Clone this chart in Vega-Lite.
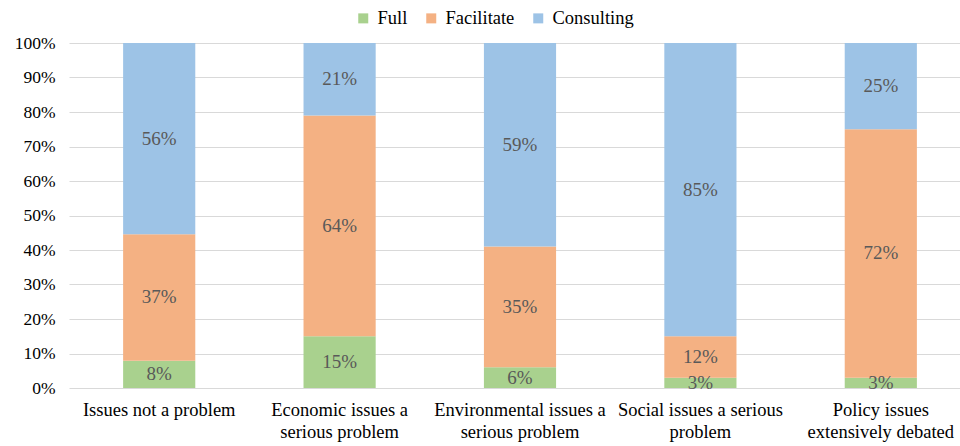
{
  "$schema": "https://vega.github.io/schema/vega-lite/v6.json",
  "width": 902,
  "height": 345,
  "autosize": {"type": "none"},
  "padding": {"left": 69, "top": 43, "right": 0, "bottom": 58},
  "background": "white",
  "config": {
    "view": {"stroke": null},
    "axisY": {
      "values": [0, 0.1, 0.2, 0.3, 0.4, 0.5, 0.6, 0.7, 0.8, 0.9, 1],
      "format": ".0%",
      "labelOverlap": false,
      "domain": false,
      "ticks": false,
      "grid": true,
      "gridColor": "#d9d9d9",
      "gridWidth": 1.2,
      "labelFont": "Liberation Serif",
      "labelFontSize": 17.5,
      "labelColor": "#000000",
      "labelPadding": 14,
      "title": null
    }
  },
  "data": {
    "values": [
      {"cat": "Issues not a problem", "series": "Full", "v": 0.08},
      {"cat": "Issues not a problem", "series": "Facilitate", "v": 0.37},
      {"cat": "Issues not a problem", "series": "Consulting", "v": 0.56},
      {"cat": "Economic issues a|serious problem", "series": "Full", "v": 0.15},
      {"cat": "Economic issues a|serious problem", "series": "Facilitate", "v": 0.64},
      {"cat": "Economic issues a|serious problem", "series": "Consulting", "v": 0.21},
      {"cat": "Environmental issues a|serious problem", "series": "Full", "v": 0.06},
      {"cat": "Environmental issues a|serious problem", "series": "Facilitate", "v": 0.35},
      {"cat": "Environmental issues a|serious problem", "series": "Consulting", "v": 0.59},
      {"cat": "Social issues a serious|problem", "series": "Full", "v": 0.03},
      {"cat": "Social issues a serious|problem", "series": "Facilitate", "v": 0.12},
      {"cat": "Social issues a serious|problem", "series": "Consulting", "v": 0.85},
      {"cat": "Policy issues|extensively debated", "series": "Full", "v": 0.03},
      {"cat": "Policy issues|extensively debated", "series": "Facilitate", "v": 0.72},
      {"cat": "Policy issues|extensively debated", "series": "Consulting", "v": 0.25}
    ]
  },
  "transform": [
    {
      "stack": "v",
      "groupby": ["cat"],
      "sort": [{"field": "series", "order": "descending"}],
      "offset": "normalize",
      "as": ["y0", "y1"]
    },
    {"calculate": "(datum.y0 + datum.y1) / 2", "as": "ymid"}
  ],
  "encoding": {
    "x": {
      "field": "cat",
      "type": "nominal",
      "sort": null,
      "scale": {"paddingInner": 0.6, "paddingOuter": 0.3},
      "axis": {
        "title": null,
        "labelAngle": 0,
        "domain": false,
        "ticks": false,
        "labelFont": "Liberation Serif",
        "labelFontSize": 18.5,
        "labelColor": "#000000",
        "labelPadding": 12,
        "labelLineHeight": 22,
        "labelExpr": "split(datum.label, '|')"
      }
    }
  },
  "layer": [
    {
      "mark": {"type": "bar"},
      "encoding": {
        "y": {
          "field": "y0",
          "type": "quantitative",
          "scale": {"domain": [0, 1]}
        },
        "y2": {"field": "y1"},
        "color": {
          "field": "series",
          "type": "nominal",
          "scale": {
            "domain": ["Full", "Facilitate", "Consulting"],
            "range": ["#a9d18e", "#f4b183", "#9dc3e6"]
          },
          "legend": {
            "title": null,
            "orient": "none",
            "direction": "horizontal",
            "legendX": 285,
            "legendY": -34,
            "symbolType": "square",
            "symbolSize": 100,
            "symbolStrokeWidth": 0,
            "labelFont": "Liberation Serif",
            "labelFontSize": 18.5,
            "labelColor": "#000000",
            "labelOffset": 5,
            "columnPadding": 14
          }
        }
      }
    },
    {
      "mark": {
        "type": "text",
        "font": "Liberation Serif",
        "fontSize": 19,
        "color": "#595959",
        "baseline": "middle",
        "align": "center"
      },
      "encoding": {
        "y": {"field": "ymid", "type": "quantitative"},
        "text": {"field": "v", "type": "quantitative", "format": ".0%"}
      }
    }
  ]
}
